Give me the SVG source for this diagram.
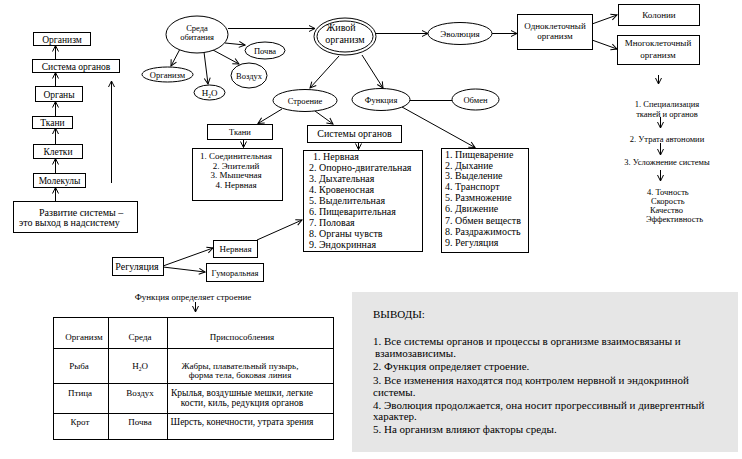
<svg xmlns="http://www.w3.org/2000/svg" width="742" height="459" viewBox="0 0 742 459">
<defs>
<marker id="a" markerWidth="8" markerHeight="8" refX="7" refY="4" orient="auto" markerUnits="userSpaceOnUse"><path d="M1,1 L7,4 L1,7" fill="none" stroke="#000" stroke-width="1"/></marker>
<style>
text{font-family:"Liberation Serif","Times New Roman",serif;fill:#000}
.b{fill:#fff;stroke:#000;stroke-width:1}
.l{fill:none;stroke:#000;stroke-width:1}
.ar{fill:none;stroke:#000;stroke-width:1;marker-end:url(#a)}
.m{text-anchor:middle}
.f11{font-size:11px}
.f10{font-size:10px}
.f95{font-size:9.5px}
.f9{font-size:9px}
.f85{font-size:8.5px}
.f8{font-size:8px}
</style>
</defs>
<rect width="742" height="459" fill="#fff"/>

<g id="connectors">
<line class="ar" x1="55.5" y1="59" x2="55.5" y2="45.5"/>
<line class="ar" x1="55.5" y1="86" x2="55.5" y2="72.5"/>
<line class="ar" x1="55.5" y1="116" x2="55.5" y2="101.5"/>
<line class="ar" x1="55.5" y1="144" x2="55.5" y2="128"/>
<line class="ar" x1="55.5" y1="173" x2="55.5" y2="158.5"/>
<line class="ar" x1="55.5" y1="201" x2="55.5" y2="187.5"/>
<line class="ar" x1="111.5" y1="183" x2="111.5" y2="81"/>
<line class="ar" x1="228" y1="28.5" x2="315" y2="28.5"/>
<line class="ar" x1="225" y1="43" x2="245" y2="45"/>
<line class="ar" x1="180" y1="49" x2="171" y2="66"/>
<line class="ar" x1="204" y1="52" x2="208" y2="84"/>
<line class="ar" x1="213" y1="50" x2="239" y2="64"/>
<line class="ar" x1="339" y1="56" x2="310" y2="88"/>
<line class="ar" x1="362" y1="55" x2="383" y2="88"/>
<line class="ar" x1="376" y1="33.5" x2="428" y2="33.5"/>
<line class="ar" x1="492" y1="33.5" x2="517" y2="33.5"/>
<line class="ar" x1="592" y1="24" x2="617" y2="15"/>
<line class="ar" x1="592" y1="40" x2="617" y2="49"/>
<line class="ar" x1="658.5" y1="75" x2="658.5" y2="84"/>
<line class="l" x1="410" y1="100.5" x2="452" y2="100.5"/>
<line class="ar" x1="282" y1="109" x2="258" y2="123.5"/>
<line class="ar" x1="315" y1="111" x2="333" y2="124"/>
<line class="ar" x1="402" y1="107" x2="475" y2="147.5"/>
<line class="ar" x1="243.5" y1="139" x2="243.5" y2="147.5"/>
<line class="ar" x1="358.5" y1="142" x2="358.5" y2="149.5"/>
<line class="ar" x1="163" y1="266" x2="213" y2="248"/>
<line class="ar" x1="163" y1="267" x2="205" y2="272"/>
<line class="ar" x1="257" y1="240" x2="302" y2="220"/>
<line class="ar" x1="660.5" y1="117" x2="660.5" y2="128"/>
<line class="ar" x1="660.5" y1="143" x2="660.5" y2="155"/>
<line class="ar" x1="660.5" y1="170" x2="660.5" y2="181"/>
<line class="ar" x1="195.5" y1="302" x2="195.5" y2="312"/>
</g>

<g id="n-organizm">
<rect class="b" x="33.5" y="32.5" width="57" height="13"/>
<text class="f95 m" x="62" y="42.5">Организм</text>
</g>
<g id="n-sistema-organov">
<rect class="b" x="32.5" y="59.5" width="87" height="13"/>
<text class="f95 m" x="76" y="69.5">Система органов</text>
</g>
<g id="n-organy">
<rect class="b" x="35.5" y="86.5" width="47" height="15"/>
<text class="f95 m" x="59" y="97.5">Органы</text>
</g>
<g id="n-tkani-l">
<rect class="b" x="32.5" y="116.5" width="40" height="12"/>
<text class="f95 m" x="52.5" y="126">Ткани</text>
</g>
<g id="n-kletki">
<rect class="b" x="33.5" y="144.5" width="49" height="14"/>
<text class="f95 m" x="58" y="155">Клетки</text>
</g>
<g id="n-molekuly">
<rect class="b" x="33.5" y="173.5" width="52" height="14"/>
<text class="f95 m" x="59.5" y="184">Молекулы</text>
</g>
<g id="n-razvitie">
<rect class="b" x="13.5" y="201.5" width="124" height="31"/>
<text class="f10" x="39" y="216">Развитие системы –</text>
<text class="f10" x="19" y="226">это выход в надсистему</text>
</g>

<g id="n-sreda">
<ellipse class="b" cx="197" cy="34.5" rx="31" ry="18.5"/>
<text class="f85 m" x="197" y="31">Среда</text>
<text class="f85 m" x="197" y="40">обитания</text>
</g>
<g id="n-pochva">
<ellipse class="b" cx="265" cy="50.5" rx="20" ry="8.5"/>
<text class="f85 m" x="265" y="53.5">Почва</text>
</g>
<g id="n-organizm-e">
<ellipse class="b" cx="167.5" cy="74.5" rx="25.5" ry="7.5"/>
<text class="f85 m" x="167.5" y="77.5">Организм</text>
</g>
<g id="n-h2o">
<ellipse class="b" cx="209.5" cy="92.5" rx="15.5" ry="7.5"/>
<text class="f9 m" x="209.5" y="95.5">Н<tspan font-size="5.5" dy="2">2</tspan><tspan dy="-2">О</tspan></text>
</g>
<g id="n-vozduh">
<ellipse class="b" cx="249" cy="75.5" rx="18" ry="12.5"/>
<text class="f85 m" x="249" y="78.5">Воздух</text>
</g>
<g id="n-zhivoy">
<ellipse class="b" cx="345" cy="36.5" rx="31" ry="18.5"/>
<ellipse class="l" cx="345" cy="36.5" rx="28" ry="15.5"/>
<text class="f10 m" x="341" y="31">Живой</text>
<text class="f10 m" x="345" y="43">организм</text>
</g>
<g id="n-evolyuciya">
<ellipse class="b" cx="460" cy="33.5" rx="32" ry="11"/>
<text class="f9 m" x="460" y="36.5">Эволюция</text>
</g>
<g id="n-odnokl">
<rect class="b" x="517.5" y="14.5" width="75" height="35"/>
<text class="f9 m" x="555" y="29">Одноклеточный</text>
<text class="f9 m" x="555" y="39">организм</text>
</g>
<g id="n-kolonii">
<rect class="b" x="618.5" y="4.5" width="81" height="21"/>
<text class="f9 m" x="659" y="18">Колонии</text>
</g>
<g id="n-mnogokl">
<rect class="b" x="617.5" y="35.5" width="82" height="29"/>
<text class="f9 m" x="658" y="46">Многоклеточный</text>
<text class="f9 m" x="658" y="58">организм</text>
</g>
<g id="n-stroenie">
<ellipse class="b" cx="305" cy="100.5" rx="32" ry="11"/>
<text class="f85 m" x="305" y="103.5">Строение</text>
</g>
<g id="n-funkciya">
<ellipse class="b" cx="381" cy="99.5" rx="29" ry="11"/>
<text class="f85 m" x="381" y="102.5">Функция</text>
</g>
<g id="n-obmen">
<ellipse class="b" cx="475.5" cy="99.5" rx="23.5" ry="10.5"/>
<text class="f85 m" x="475.5" y="102.5">Обмен</text>
</g>
<g id="n-tkani">
<rect class="b" x="207.5" y="124.5" width="65" height="15"/>
<text class="f85 m" x="240" y="134.5">Ткани</text>
</g>
<g id="n-sistemy">
<rect class="b" x="307.5" y="125.5" width="94" height="17"/>
<text class="f10 m" x="354.5" y="137">Системы органов</text>
</g>
<g id="n-tkani-list">
<rect class="b" x="192.5" y="148.5" width="90" height="52"/>
<text class="f9 m" x="236" y="159">1. Соединительная</text>
<text class="f9 m" x="236" y="168.5">2. Эпителий</text>
<text class="f9 m" x="236" y="178">3. Мышечная</text>
<text class="f9 m" x="236" y="187.5">4. Нервная</text>
</g>
<g id="n-sistemy-list" class="f10">
<rect class="b" x="303.5" y="150.5" width="119" height="101"/>
<text x="313" y="160">1. Нервная</text>
<text x="309" y="171">2. Опорно-двигательная</text>
<text x="309" y="181.5">3. Дыхательная</text>
<text x="309" y="193">4. Кровеносная</text>
<text x="309" y="204">5. Выделительная</text>
<text x="309" y="215">6. Пищеварительная</text>
<text x="309" y="225.5">7. Половая</text>
<text x="309" y="236.5">8. Органы чувств</text>
<text x="309" y="248">9. Эндокринная</text>
</g>
<g id="n-funkcii-list" class="f10">
<rect class="b" x="441.5" y="148.5" width="87" height="104"/>
<text x="445" y="158">1. Пищеварение</text>
<text x="445" y="169">2. Дыхание</text>
<text x="445" y="179">3. Выделение</text>
<text x="445" y="189.5">4. Транспорт</text>
<text x="445" y="201">5. Размножение</text>
<text x="445" y="212">6. Движение</text>
<text x="445" y="224">7. Обмен веществ</text>
<text x="445" y="235">8. Раздражимость</text>
<text x="445" y="245.5">9. Регуляция</text>
</g>
<g id="n-regulyaciya">
<rect class="b" x="112.5" y="257.5" width="51" height="18"/>
<text class="f10 m" x="137" y="269.5">Регуляция</text>
</g>
<g id="n-nervnaya">
<rect class="b" x="213.5" y="240.5" width="44" height="17"/>
<text class="f9 m" x="235.5" y="252">Нервная</text>
</g>
<g id="n-gumoralnaya">
<rect class="b" x="206.5" y="263.5" width="57" height="18"/>
<text class="f85 m" x="235" y="275.5">Гуморальная</text>
</g>
<g id="n-etapy" class="f85">
<text class="m" x="667" y="107">1. Специализация</text>
<text class="m" x="667" y="117">тканей и органов</text>
<text class="m" x="667" y="142">2. Утрата автономии</text>
<text class="m" x="667" y="165">3. Усложнение системы</text>
<text x="647" y="194.5">4. Точность</text>
<text x="651" y="203.5">Скорость</text>
<text x="650" y="212.5">Качество</text>
<text x="646" y="221.5">Эффективность</text>
</g>

<g id="n-table" class="f9">
<text class="m" x="193" y="300">Функция определяет строение</text>
<rect class="b" x="53.5" y="317.5" width="280" height="122"/>
<line class="l" x1="108.5" y1="317" x2="108.5" y2="439"/>
<line class="l" x1="167.5" y1="317" x2="167.5" y2="439"/>
<line class="l" x1="53" y1="348.5" x2="333" y2="348.5"/>
<line class="l" x1="53" y1="383.5" x2="333" y2="383.5"/>
<line class="l" x1="53" y1="413.5" x2="333" y2="413.5"/>
<text class="m" x="84" y="340">Организм</text>
<text class="m" x="140" y="340">Среда</text>
<text class="m" x="242" y="340">Приспособления</text>
<text class="m" x="79" y="369">Рыба</text>
<text class="m" x="140" y="369">Н<tspan font-size="5.5" dy="2">2</tspan><tspan dy="-2">О</tspan></text>
<text class="m" x="240" y="369">Жабры, плавательный пузырь,</text>
<text class="m" x="240" y="378">форма тела, боковая линия</text>
<text class="m" x="80" y="396">Птица</text>
<text class="m" x="140" y="396">Воздух</text>
<text class="m f95" x="242" y="396">Крылья, воздушные мешки, легкие</text>
<text class="m f95" x="242" y="405.5">кости, киль, редукция органов</text>
<text class="m" x="80" y="425">Крот</text>
<text class="m" x="140" y="425">Почва</text>
<text class="m f95" x="242" y="425">Шерсть, конечности, утрата зрения</text>
</g>

<g id="n-vyvody" class="f11">
<rect x="352" y="292" width="386" height="160" fill="#e6e6e6"/>
<text x="373" y="318">ВЫВОДЫ:</text>
<text x="373" y="345">1. Все системы органов и процессы в организме взаимосвязаны и</text>
<text x="375" y="356.5">взаимозависимы.</text>
<text x="373" y="370">2. Функция определяет строение.</text>
<text x="373" y="384">3. Все изменения находятся под контролем нервной и эндокринной</text>
<text x="373" y="395.5">системы.</text>
<text x="373" y="408.5">4. Эволюция продолжается, она носит прогрессивный и дивергентный</text>
<text x="373" y="419.5">характер.</text>
<text x="373" y="433">5. На организм влияют факторы среды.</text>
</g>
</svg>
